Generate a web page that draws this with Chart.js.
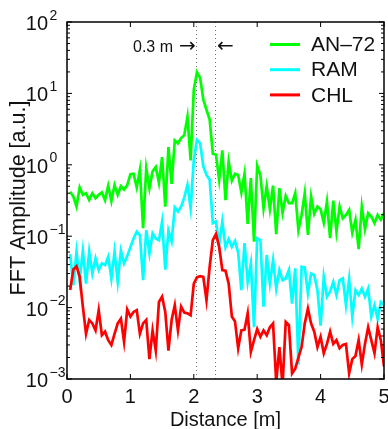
<!DOCTYPE html>
<html>
<head>
<meta charset="utf-8">
<script src="https://cdn.jsdelivr.net/npm/chart.js@4/dist/chart.umd.min.js"></script>
<style>
  body { margin: 0; background: #fff; }
  canvas { display: block; }
</style>
</head>
<body>
<canvas id="fft" width="388" height="429"></canvas>
<script>
// sample positions along the profile [m]
var distance = [
  0.05, 0.10, 0.15, 0.20, 0.25, 0.30, 0.35, 0.40, 0.45, 0.50,
  0.55, 0.60, 0.65, 0.70, 0.75, 0.80, 0.85, 0.90, 0.95, 1.00,
  1.05, 1.10, 1.15, 1.20, 1.25, 1.30, 1.35, 1.40, 1.45, 1.50,
  1.55, 1.60, 1.65, 1.70, 1.75, 1.80, 1.85, 1.90, 1.95, 2.00,
  2.05, 2.10, 2.15, 2.20, 2.25, 2.30, 2.35, 2.40, 2.45, 2.50,
  2.55, 2.60, 2.65, 2.70, 2.75, 2.80, 2.85, 2.90, 2.95, 3.00,
  3.05, 3.10, 3.15, 3.20, 3.25, 3.30, 3.35, 3.40, 3.45, 3.50,
  3.55, 3.60, 3.65, 3.70, 3.75, 3.80, 3.85, 3.90, 3.95, 4.00,
  4.05, 4.10, 4.15, 4.20, 4.25, 4.30, 4.35, 4.40, 4.45, 4.50,
  4.55, 4.60, 4.65, 4.70, 4.75, 4.80, 4.85, 4.90, 4.95, 5.00
];

var an72 = [
  0.42, 0.36, 0.26, 0.48, 0.38, 0.40, 0.32, 0.40, 0.34, 0.38,
  0.41, 0.32, 0.51, 0.31, 0.52, 0.38, 0.50, 0.45, 0.52, 0.74,
  0.75, 0.48, 0.85, 0.13, 0.90, 0.47, 0.81, 0.93, 0.56, 1.28,
  0.26, 1.77, 0.54, 2.2, 2.0, 2.37, 2.6, 4.7, 1.15, 11.3,
  19.8, 16.5, 8.2, 5.9, 4.3, 1.43, 1.38, 0.62, 1.59, 0.32,
  1.11, 0.60, 0.75, 0.72, 0.41, 0.75, 0.149, 0.65, 0.084, 0.97,
  0.72, 0.246, 0.50, 0.238, 0.51, 0.107, 0.47, 0.213, 0.367, 0.29,
  0.29, 0.40, 0.122, 0.198, 0.40, 0.104, 0.36, 0.205, 0.26, 0.238,
  0.155, 0.305, 0.094, 0.315, 0.116, 0.26, 0.178, 0.198, 0.233, 0.112,
  0.169, 0.066, 0.26, 0.125, 0.21, 0.188, 0.152, 0.198, 0.17, 0.21
];

var ram = [
  0.056, 0.0207, 0.0607, 0.0242, 0.0626, 0.0217, 0.0607, 0.030, 0.049, 0.0336,
  0.0417, 0.0395, 0.0514, 0.0256, 0.0607, 0.0229, 0.0626, 0.0417, 0.0527, 0.07,
  0.093, 0.116, 0.104, 0.0242, 0.122, 0.057, 0.110, 0.093, 0.088, 0.16,
  0.034, 0.12, 0.085, 0.254, 0.221, 0.26, 0.35, 0.52, 0.246, 1.17,
  2.24, 2.0, 0.95, 0.72, 0.62, 0.152, 0.16, 0.075, 0.16, 0.07,
  0.091, 0.071, 0.086, 0.059, 0.0176, 0.080, 0.0229, 0.0417, 0.0053, 0.093,
  0.088, 0.0103, 0.0545, 0.0217, 0.0462, 0.0185, 0.0336, 0.0242, 0.0256, 0.0336,
  0.0114, 0.0354, 0.0016, 0.0373, 0.0366, 0.0158, 0.030, 0.0285, 0.0176, 0.0056,
  0.027, 0.0142, 0.0167, 0.0229, 0.015, 0.0242, 0.0256, 0.0108, 0.025, 0.0075,
  0.0176, 0.015, 0.0185, 0.0142, 0.0185, 0.0075, 0.0108, 0.007, 0.012, 0.011
];

var chl = [
  0.0176, 0.0343, 0.038, 0.027, 0.0103, 0.0043, 0.0067, 0.006, 0.0048, 0.0092,
  0.0041, 0.0046, 0.0035, 0.003, 0.0043, 0.006, 0.007, 0.0033, 0.0094, 0.0075,
  0.0087, 0.0092, 0.0043, 0.006, 0.0067, 0.0019, 0.0048, 0.0025, 0.012, 0.0142,
  0.0087, 0.0025, 0.0067, 0.0108, 0.0048, 0.0103, 0.0085, 0.0083, 0.0078, 0.0217,
  0.0265, 0.0276, 0.027, 0.0127, 0.0373, 0.088, 0.107, 0.071, 0.0336, 0.033,
  0.0217, 0.0075, 0.0064, 0.0027, 0.0048, 0.0049, 0.0083, 0.0024, 0.0035, 0.005,
  0.0039, 0.0048, 0.0041, 0.0053, 0.006, 0.0009, 0.0028, 0.0008, 0.0063, 0.0057,
  0.0012, 0.0014, 0.002, 0.0028, 0.006, 0.0097, 0.006, 0.0046, 0.0028, 0.0039,
  0.0023, 0.0031, 0.0046, 0.0031, 0.0035, 0.0027, 0.003, 0.0031, 0.0012, 0.0019,
  0.0021, 0.0035, 0.0016, 0.0031, 0.0053, 0.0035, 0.0023, 0.0053, 0.0035, 0.0015
];

var seriesNames = ['AN\u201372', 'RAM', 'CHL'];
var seriesColors = ['rgb(0,255,0)', 'rgb(0,255,255)', 'rgb(255,0,0)'];
var xTicks = [0, 1, 2, 3, 4, 5];
var yTicks = [0.001, 0.01, 0.1, 1, 10, 100];
var yExponents = ['\u22123', '\u22122', '\u22121', '0', '1', '2'];
var markers = [2.03, 2.34];   // the 0.3 m window

function pts(ys) {
  return distance.map(function (d, i) { return { x: d, y: ys[i] }; });
}

var FONT = '"Liberation Sans", Arial, sans-serif';
var ARROW_FONT = '"DejaVu Sans", sans-serif';

var decor = {
  id: 'decor',
  beforeDatasetsDraw: function (chart) {
    var ctx = chart.ctx, a = chart.chartArea, x = chart.scales.x;
    ctx.save();
    ctx.strokeStyle = '#707070';
    ctx.lineWidth = 1;
    ctx.setLineDash([1, 3]);
    markers.forEach(function (m) {
      var px = Math.round(x.getPixelForValue(m)) + 0.5;
      ctx.beginPath();
      ctx.moveTo(px, a.top);
      ctx.lineTo(px, a.bottom);
      ctx.stroke();
    });
    ctx.restore();
  },
  afterDraw: function (chart) {
    var ctx = chart.ctx, a = chart.chartArea;
    var x = chart.scales.x, y = chart.scales.y;
    ctx.save();
    ctx.strokeStyle = '#000';
    ctx.fillStyle = '#111';
    ctx.lineWidth = 1.5;
    ctx.strokeRect(a.left, a.top, a.right - a.left, a.bottom - a.top);

    // x ticks, inward on bottom and top
    ctx.lineWidth = 1;
    ctx.font = '20px ' + FONT;
    ctx.textAlign = 'center';
    ctx.textBaseline = 'alphabetic';
    xTicks.forEach(function (t) {
      var px = x.getPixelForValue(t);
      ctx.beginPath();
      ctx.moveTo(px, a.bottom); ctx.lineTo(px, a.bottom - 5);
      ctx.moveTo(px, a.top); ctx.lineTo(px, a.top + 5);
      ctx.stroke();
      ctx.fillText(String(t), px, 403);
    });

    // y ticks: decades plus minor ticks, both sides
    for (var d = -3; d <= 1; d++) {
      for (var k = 2; k <= 9; k++) {
        var py = y.getPixelForValue(k * Math.pow(10, d));
        ctx.beginPath();
        ctx.moveTo(a.left, py); ctx.lineTo(a.left + 3, py);
        ctx.moveTo(a.right, py); ctx.lineTo(a.right - 3, py);
        ctx.stroke();
      }
    }
    yTicks.forEach(function (t, i) {
      var py = y.getPixelForValue(t);
      ctx.beginPath();
      ctx.moveTo(a.left, py); ctx.lineTo(a.left + 5, py);
      ctx.moveTo(a.right, py); ctx.lineTo(a.right - 5, py);
      ctx.stroke();
      ctx.font = '20px ' + FONT;
      ctx.textAlign = 'right';
      ctx.fillText('10', 48, py + 8);
      ctx.font = '14px ' + FONT;
      ctx.textAlign = 'left';
      ctx.fillText(yExponents[i], 49.5, py - 2.5);
    });

    // axis titles
    ctx.font = '20px ' + FONT;
    ctx.textAlign = 'center';
    ctx.fillText('Distance [m]', (a.left + a.right) / 2, 426);
    ctx.save();
    ctx.translate(25, 198);
    ctx.rotate(-Math.PI / 2);
    ctx.font = '21.5px ' + FONT;
    ctx.fillText('FFT Amplitude [a.u.]', 0, 0);
    ctx.restore();

    // annotation for the 0.3 m window
    ctx.font = '16px ' + FONT;
    ctx.textAlign = 'right';
    ctx.fillText('0.3 m', 173, 51.5);
    ctx.font = '20px ' + ARROW_FONT;
    ctx.textAlign = 'left';
    ctx.fillText('\u2192', 179, 52);
    ctx.fillText('\u2190', 217, 52);

    // legend
    ctx.font = '21px ' + FONT;
    ctx.textBaseline = 'middle';
    seriesNames.forEach(function (name, i) {
      var ly = 44.5 + i * 25.2;
      ctx.strokeStyle = seriesColors[i];
      ctx.lineWidth = 3;
      ctx.beginPath();
      ctx.moveTo(270, ly); ctx.lineTo(300, ly);
      ctx.stroke();
      ctx.fillText(name, 311, ly + 1);
    });
    ctx.restore();
  }
};

var chart = new Chart(document.getElementById('fft').getContext('2d'), {
  type: 'line',
  data: {
    datasets: [
      { label: seriesNames[0], data: pts(an72), borderColor: seriesColors[0], order: 3 },
      { label: seriesNames[1], data: pts(ram), borderColor: seriesColors[1], order: 2 },
      { label: seriesNames[2], data: pts(chl), borderColor: seriesColors[2], order: 1 }
    ]
  },
  options: {
    responsive: false,
    animation: false,
    devicePixelRatio: 1,
    layout: { padding: { left: 67, right: 4, top: 22, bottom: 50 } },
    elements: {
      line: { borderWidth: 2.7, tension: 0, borderJoinStyle: 'miter' },
      point: { radius: 0 }
    },
    plugins: { legend: { display: false }, tooltip: { enabled: false } },
    scales: {
      x: { type: 'linear', min: 0, max: 5, display: false },
      y: { type: 'logarithmic', min: 0.001, max: 100, display: false }
    }
  },
  plugins: [decor]
});
</script>
</body>
</html>
